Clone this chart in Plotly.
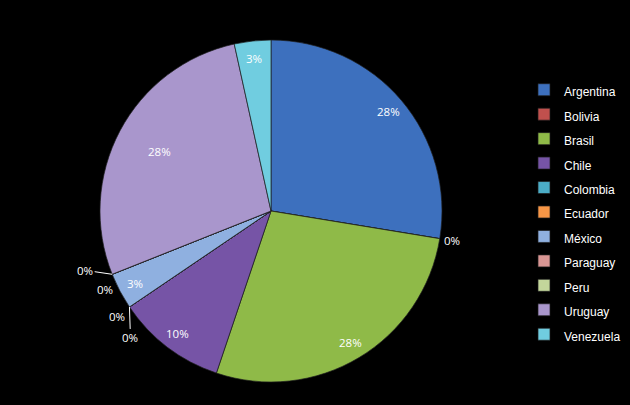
import math
import plotly.graph_objects as go

countries = ["Argentina", "Bolivia", "Brasil", "Chile", "Colombia", "Ecuador",
             "México", "Paraguay", "Peru", "Uruguay", "Venezuela"]
values = [8, 0, 8, 3, 0, 0, 1, 0, 0, 8, 1]
colors = ["#3d70be", "#c0504d", "#8fba48", "#7654a6", "#4bacc6", "#f79646",
          "#8fb0e0", "#d99694", "#c3d69b", "#a996cc", "#70cde0"]

W, H = 630, 405
cx, cy, R = 271, 211, 171  # pie geometry in pixels (layout)
FONT = "Open Sans, Liberation Sans, Arial"

fig = go.Figure(go.Pie(
    labels=['<span style="font-size:12px">%s</span>' % c for c in countries],
    values=values,
    sort=False,
    direction="clockwise",
    rotation=0,
    marker=dict(colors=colors, line=dict(color="#1e1e1e", width=0.7)),
    textposition="none",
    domain=dict(x=[(cx - R) / W, (cx + R) / W], y=[1 - (cy + R) / H, 1 - (cy - R) / H]),
    hoverinfo="label+percent",
))

total = sum(values)

def rim(frac, rr=R):
    ang = 2 * math.pi * frac
    return cx + rr * math.sin(ang), cy - rr * math.cos(ang)

annotations = []
label_font = dict(family=FONT, size=11.5, color="white")

# percentage labels of non-zero slices, placed at mid-angle of each slice
label_radius = {"Uruguay": 0.74}
cum = 0.0
zero_groups = {}
for name, v in zip(countries, values):
    if v == 0:
        zero_groups.setdefault(cum, []).append(name)
    else:
        px, py = rim((cum + v / 2) / total, R * label_radius.get(name, 0.9))
        annotations.append(dict(x=px / W, y=1 - py / H, xref="paper", yref="paper",
                                xanchor="center", yanchor="middle",
                                showarrow=False, text="%d%%" % round(100 * v / total),
                                font=label_font))
    cum += v

# labels for zero-value slices around each boundary: (dx, dy, with_line)
offset_sets = [
    [(12, 2, False)],
    [(-12, 10, False), (1, 31, True)],
    [(-27, -4, True), (-7, 15, False)],
]
for gi, (start, names) in enumerate(sorted(zero_groups.items())):
    px, py = rim(start / total)
    offs = offset_sets[min(gi, len(offset_sets) - 1)]
    for k, name in enumerate(names):
        dx, dy, line = offs[min(k, len(offs) - 1)]
        if line:
            annotations.append(dict(
                x=px / W, y=1 - py / H, xref="paper", yref="paper",
                ax=dx, ay=dy, showarrow=True, arrowhead=0, arrowwidth=1,
                arrowcolor="white", text="0%", standoff=0, font=label_font))
        else:
            annotations.append(dict(
                x=(px + dx) / W, y=1 - (py + dy) / H, xref="paper", yref="paper",
                xanchor="center", yanchor="middle",
                showarrow=False, text="0%", font=label_font))

fig.update_layout(
    width=W, height=H,
    paper_bgcolor="black", plot_bgcolor="black",
    margin=dict(l=0, r=0, t=0, b=0),
    showlegend=True,
    legend=dict(
        x=524 / W, xanchor="left", y=1 - 212 / H, yanchor="middle",
        font=dict(family="Liberation Sans, Arial", size=16.5, color="white"),
        bgcolor="rgba(0,0,0,0)", traceorder="normal",
    ),
    annotations=annotations,
)

fig.write_html("out.html", config={"displayModeBar": False},
               post_script="document.body.style.margin='0';document.body.style.background='black';")
